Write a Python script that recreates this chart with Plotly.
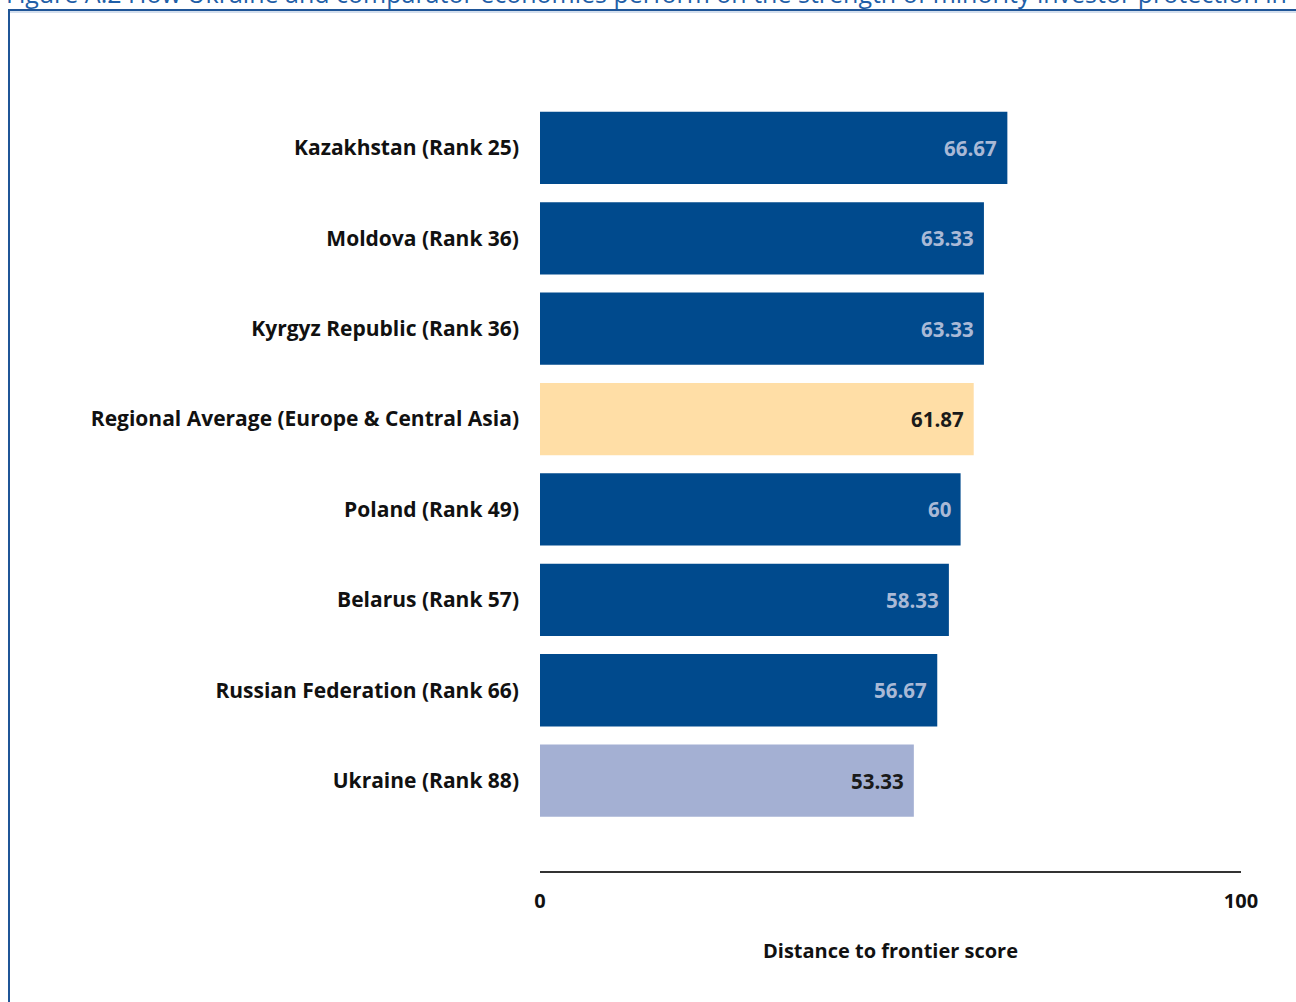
import plotly.graph_objects as go

categories = ["Ukraine (Rank 88)", "Russian Federation (Rank 66)", "Belarus (Rank 57)",
              "Poland (Rank 49)", "Regional Average (Europe & Central Asia)",
              "Kyrgyz Republic (Rank 36)", "Moldova (Rank 36)", "Kazakhstan (Rank 25)"]
values = [53.33, 56.67, 58.33, 60, 61.87, 63.33, 63.33, 66.67]
value_labels = ["53.33", "56.67", "58.33", "60", "61.87", "63.33", "63.33", "66.67"]
bar_colors = ["#A4B0D3", "#004A8D", "#004A8D", "#004A8D", "#FFDEA6", "#004A8D", "#004A8D", "#004A8D"]
text_colors = ["#1a1a1a", "#a9b9d6", "#a9b9d6", "#a9b9d6", "#1a1a1a", "#a9b9d6", "#a9b9d6", "#a9b9d6"]
x_ticks = [0, 100]
title_text = "Figure A.2 How Ukraine and comparator economies perform on the strength of minority investor protection in Ukraine"
x_title = "Distance to frontier score"

W, H = 1296, 1002
L, R, T, B = 540, 55, 100, 131
pw, ph = W - L - R, H - T - B

def px_x(p):
    return (p - L) / pw

def px_y(p):
    return (H - B - p) / ph

font_family = "Open Sans, DejaVu Sans, sans-serif"
pos = list(range(len(categories)))

fig = go.Figure(go.Bar(
    x=values, y=pos, orientation="h",
    marker=dict(color=bar_colors, line=dict(width=0)),
    width=0.8, hoverinfo="skip",
))

value_annotations = [
    dict(x=v, y=p, xref="x", yref="y", text=t, showarrow=False,
         xanchor="right", yanchor="middle", xshift=-8,
         font=dict(family=font_family, size=20.5, color=c, weight="bold"))
    for v, p, t, c in zip(values, pos, value_labels, text_colors)
]

fig.update_layout(
    width=W, height=H,
    margin=dict(l=L, r=R, t=T, b=B, pad=0),
    paper_bgcolor="white", plot_bgcolor="white",
    showlegend=False,
    font=dict(family=font_family, color="#111111"),
    xaxis=dict(range=[0, 100], tickvals=x_ticks, ticktext=[str(v) for v in x_ticks],
               showgrid=False, zeroline=False, showline=True, linecolor="#333333", linewidth=2,
               ticks="", ticklabelstandoff=11,
               tickfont=dict(family=font_family, size=20, color="#111111", weight="bold"),
               title=dict(text=x_title, standoff=31,
                          font=dict(family=font_family, size=20, color="#111111", weight="bold"))),
    yaxis=dict(range=[-1.0, 7.53], tickvals=pos, ticktext=categories,
               showgrid=False, zeroline=False, showline=False, ticks="", ticklabelstandoff=20,
               tickfont=dict(family=font_family, size=21, color="#111111", weight="bold")),
    shapes=[
        dict(type="line", xref="paper", yref="paper", x0=px_x(8), x1=px_x(1300), y0=px_y(10), y1=px_y(10),
             line=dict(color="#1F5597", width=2)),
        dict(type="line", xref="paper", yref="paper", x0=px_x(10), x1=px_x(1300), y0=px_y(12), y1=px_y(12),
             line=dict(color="#A8BEDB", width=1)),
        dict(type="line", xref="paper", yref="paper", x0=px_x(9), x1=px_x(9), y0=px_y(10), y1=px_y(1010),
             line=dict(color="#1F5597", width=2)),
    ],
    annotations=value_annotations + [
        dict(text=title_text, xref="paper", yref="paper", x=px_x(4), y=px_y(12),
             xanchor="left", yanchor="bottom", showarrow=False,
             font=dict(family=font_family, size=25, color="#1F5FA8")),
    ],
)

fig.write_html("out.html", config={"displayModeBar": False},
               post_script="document.body.style.margin='0';")
